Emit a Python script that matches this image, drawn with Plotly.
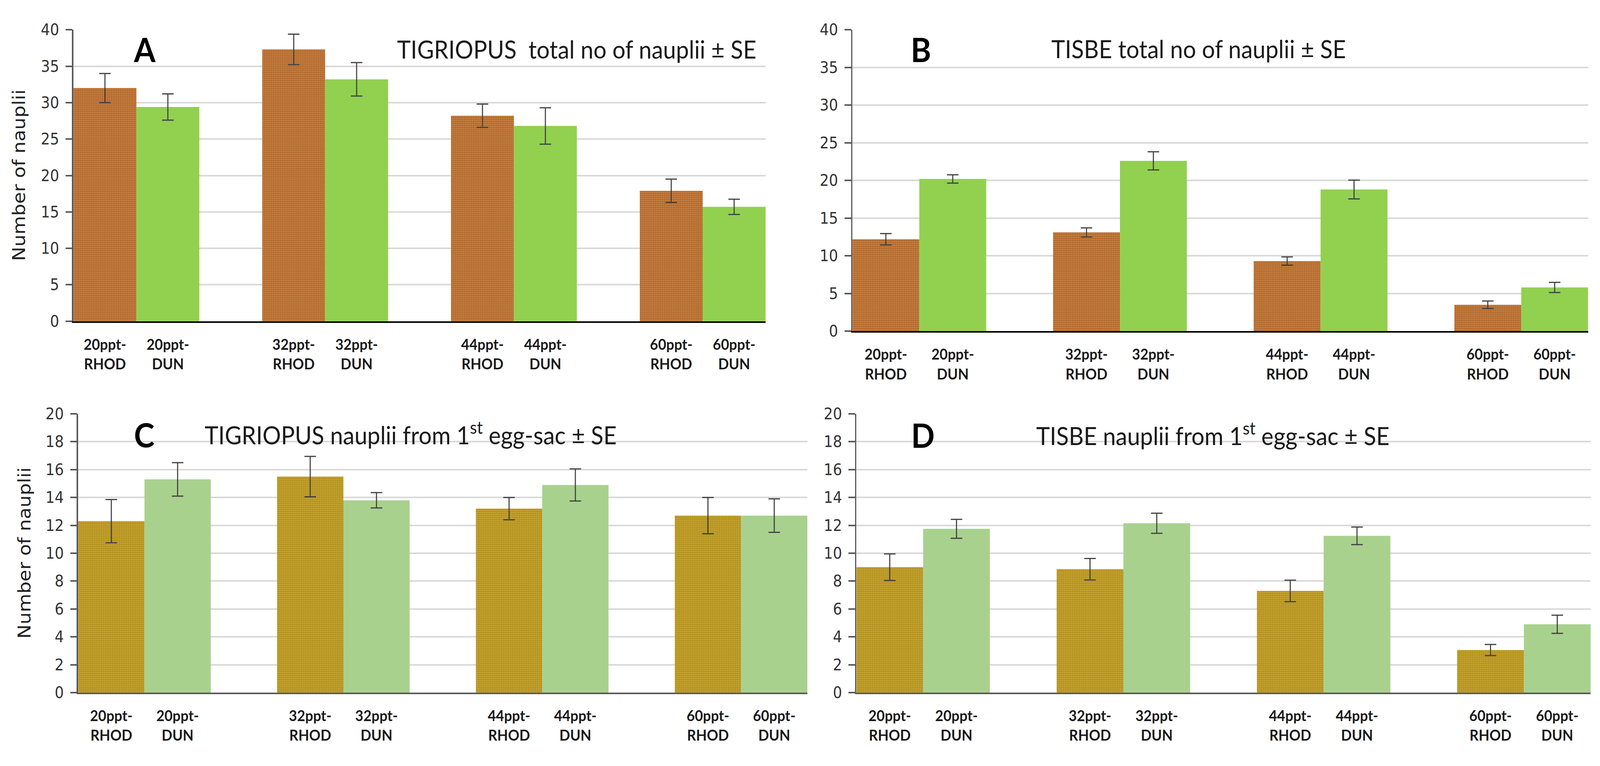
import plotly.graph_objects as go

W, H = 4441, 1962

salinity = ["20ppt", "32ppt", "44ppt", "60ppt"]
algae = ["RHOD", "DUN"]

# Panel A: TIGRIOPUS total no of nauplii
tig_total_rhod = [32.0, 37.3, 28.2, 17.9]
tig_total_rhod_se = [2.0, 2.1, 1.6, 1.6]
tig_total_dun = [29.4, 33.2, 26.8, 15.7]
tig_total_dun_se = [1.8, 2.3, 2.5, 1.05]

# Panel B: TISBE total no of nauplii
tis_total_rhod = [12.2, 13.1, 9.3, 3.5]
tis_total_rhod_se = [0.75, 0.6, 0.55, 0.5]
tis_total_dun = [20.2, 22.6, 18.8, 5.8]
tis_total_dun_se = [0.55, 1.2, 1.25, 0.68]

# Panel C: TIGRIOPUS nauplii from 1st egg-sac
tig_egg_rhod = [12.3, 15.5, 13.2, 12.7]
tig_egg_rhod_se = [1.55, 1.45, 0.8, 1.3]
tig_egg_dun = [15.3, 13.8, 14.9, 12.7]
tig_egg_dun_se = [1.2, 0.55, 1.15, 1.2]

# Panel D: TISBE nauplii from 1st egg-sac
tis_egg_rhod = [9.0, 8.85, 7.3, 3.05]
tis_egg_rhod_se = [0.95, 0.77, 0.77, 0.4]
tis_egg_dun = [11.75, 12.15, 11.25, 4.9]
tis_egg_dun_se = [0.68, 0.72, 0.63, 0.65]

panels = [
    dict(letter="A", title="TIGRIOPUS\u00a0 total no of nauplii \u00b1 SE",
         rhod=tig_total_rhod, rhod_se=tig_total_rhod_se, dun=tig_total_dun, dun_se=tig_total_dun_se,
         ymax=40, dtick=5, box=(204, 2125, 54.5, 819),
         rhod_bg="#B0662A", rhod_dot="#F7C27F", dun_col="#92D050", base_col="#000000",
         letter_pos=(402, 105), title_pos=(1100, 105), ytitle_x=53),
    dict(letter="B", title="TISBE total no of nauplii \u00b1 SE",
         rhod=tis_total_rhod, rhod_se=tis_total_rhod_se, dun=tis_total_dun, dun_se=tis_total_dun_se,
         ymax=40, dtick=5, box=(2366, 4408, 54.5, 845),
         rhod_bg="#B0662A", rhod_dot="#F7C27F", dun_col="#92D050", base_col="#000000",
         letter_pos=(2556, 105), title_pos=(2916, 104), ytitle_x=None),
    dict(letter="C", title="TIGRIOPUS nauplii from 1<sup>st</sup> egg-sac \u00b1 SE",
         rhod=tig_egg_rhod, rhod_se=tig_egg_rhod_se, dun=tig_egg_dun, dun_se=tig_egg_dun_se,
         ymax=20, dtick=2, box=(217, 2241, 1062, 1793),
         rhod_bg="#B28F1E", rhod_dot="#F2DA5E", dun_col="#A9D18E", base_col="#595959",
         letter_pos=(400, 1116), title_pos=(566, 1113), ytitle_x=68),
    dict(letter="D", title="TISBE nauplii from 1<sup>st</sup> egg-sac \u00b1 SE",
         rhod=tis_egg_rhod, rhod_se=tis_egg_rhod_se, dun=tis_egg_dun, dun_se=tis_egg_dun_se,
         ymax=20, dtick=2, box=(2377, 4415, 1062, 1793),
         rhod_bg="#B28F1E", rhod_dot="#F2DA5E", dun_col="#A9D18E", base_col="#595959",
         letter_pos=(2561, 1117), title_pos=(2874, 1115), ytitle_x=None),
]

# slot layout: RHOD, DUN, empty, RHOD, DUN, empty, ...
rhod_x = [3 * i for i in range(len(salinity))]
dun_x = [3 * i + 1 for i in range(len(salinity))]
tickvals = []
ticktext = []
for i, s in enumerate(salinity):
    tickvals += [rhod_x[i], dun_x[i]]
    ticktext += [f"{s}-<br>{algae[0]}", f"{s}-<br>{algae[1]}"]

fig = go.Figure()
layout = dict(width=W, height=H, margin=dict(l=0, r=0, t=0, b=0),
              paper_bgcolor="white", plot_bgcolor="white",
              showlegend=False, barmode="overlay", annotations=[])

err_style = dict(type="data", color="#404040", thickness=3, width=16, visible=True)

for k, p in enumerate(panels):
    n = "" if k == 0 else str(k + 1)
    xa, ya = "x" + n, "y" + n
    x0, x1, y0, y1 = p["box"]
    fig.add_trace(go.Bar(
        x=rhod_x, y=p["rhod"], width=1, xaxis=xa, yaxis=ya,
        marker=dict(color=p["rhod_bg"], line=dict(width=0),
                    pattern=dict(shape=".", fgcolor=p["rhod_dot"], size=5, solidity=0.3)),
        error_y=dict(array=p["rhod_se"], **err_style)))
    fig.add_trace(go.Bar(
        x=dun_x, y=p["dun"], width=1, xaxis=xa, yaxis=ya,
        marker=dict(color=p["dun_col"], line=dict(width=0)),
        error_y=dict(array=p["dun_se"], **err_style)))
    layout["xaxis" + n] = dict(
        domain=[x0 / W, x1 / W], anchor=ya, range=[-0.5, 10.5],
        tickmode="array", tickvals=tickvals, ticktext=ticktext,
        ticks="", showgrid=False, zeroline=False,
        showline=True, linecolor=p["base_col"], linewidth=4,
        ticklabelstandoff=22,
        tickfont=dict(family="Lato", size=39, color="#1a1a1a", weight="bold"))
    layout["yaxis" + n] = dict(
        domain=[1 - y1 / H, 1 - y0 / H], anchor=xa, range=[0, p["ymax"]],
        dtick=p["dtick"], tick0=0, showgrid=True, gridcolor="#D9D9D9", gridwidth=4,
        zeroline=False, showline=True, linecolor="#595959", linewidth=3.5,
        ticks="outside", ticklen=18, tickwidth=3.5, tickcolor="#595959",
        ticklabelstandoff=10,
        tickfont=dict(family="DejaVu Sans", size=40, color="#333333"))
    lx, ly = p["letter_pos"]
    layout["annotations"].append(dict(
        text=p["letter"], x=lx / W, y=1 - ly / H, xref="paper", yref="paper",
        xanchor="center", yanchor="middle", showarrow=False,
        font=dict(family="Lato", size=86, color="#000000", weight="bold")))
    tx, ty = p["title_pos"]
    layout["annotations"].append(dict(
        text=p["title"], x=tx / W, y=1 - ty / H, xref="paper", yref="paper",
        xanchor="left", yanchor="middle", showarrow=False,
        font=dict(family="Lato", size=64, color="#1a1a1a")))
    if p["ytitle_x"] is not None:
        layout["annotations"].append(dict(
            text="Number of nauplii", x=p["ytitle_x"] / W, y=1 - ((y0 + y1) / 2) / H,
            xref="paper", yref="paper", xanchor="center", yanchor="middle",
            textangle=-90, showarrow=False,
            font=dict(family="DejaVu Sans", size=49, color="#222222")))

fig.update_layout(**layout)

# fit the fixed-size figure exactly into the browser viewport
fit_js = """
(function(){
  var gd = document.getElementById('{plot_id}');
  document.documentElement.style.margin = '0';
  document.body.style.margin = '0';
  document.documentElement.style.overflow = 'hidden';
  document.body.style.overflow = 'hidden';
  var sx = window.innerWidth / %d, sy = window.innerHeight / %d;
  gd.style.transformOrigin = '0 0';
  gd.style.transform = 'scale(' + sx + ',' + sy + ')';
})();
""" % (W, H)

fig.write_html("out.html", post_script=fit_js, config={"displayModeBar": False})
